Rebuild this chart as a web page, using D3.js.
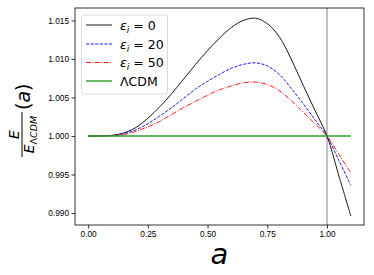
<!DOCTYPE html>
<html>
<head>
<meta charset="utf-8">
<script src="https://cdn.jsdelivr.net/npm/d3@7"></script>
<style>
  body { margin: 0; background: #fff; }
  svg { display: block; font-family: "DejaVu Sans", sans-serif; }
</style>
</head>
<body>
<div id="chart"></div>
<script>
// scale factor a
const aValues = [0, 0.05, 0.1, 0.15, 0.2, 0.25, 0.3, 0.35, 0.4, 0.45, 0.5, 0.55,
  0.6, 0.65, 0.7, 0.75, 0.8, 0.85, 0.9, 0.95, 1.0, 1.05, 1.1];
// E / E_LCDM for each model
const eps0 = [1.0, 1.0, 1.00008, 1.0004, 1.0011, 1.0023, 1.0038, 1.0055, 1.0074, 1.0093,
  1.0111, 1.0127, 1.0141, 1.0150, 1.0153, 1.0146, 1.0129, 1.0100, 1.0066, 1.0033, 1.0, 0.9948, 0.9896];
const eps20 = [1.0, 1.0, 1.00005, 1.0003, 1.0008, 1.0016, 1.0026, 1.0037, 1.0049, 1.0061,
  1.0071, 1.0080, 1.0088, 1.0093, 1.0095, 1.0091, 1.0080, 1.0062, 1.0042, 1.0021, 1.0, 0.9968, 0.9936];
const eps50 = [1.0, 1.0, 1.00003, 1.0002, 1.0006, 1.0012, 1.0019, 1.0028, 1.0037, 1.0045,
  1.0053, 1.0060, 1.0065, 1.0069, 1.0070, 1.0067, 1.0059, 1.0046, 1.0031, 1.0016, 1.0, 0.9976, 0.9952];
const lcdm = aValues.map(() => 1.0);

const xTicks = [0, 0.25, 0.5, 0.75, 1.0];
const yTicks = [0.990, 0.995, 1.000, 1.005, 1.010, 1.015];

const series = [
  { name: "0", values: eps0, color: "#000000", dash: null },
  { name: "20", values: eps20, color: "#0000ff", dash: "3.2,1.4" },
  { name: "50", values: eps50, color: "#ff0000", dash: "5,1.4,1,1.4" },
];

const W = 374, H = 275;
const plot = { left: 75, right: 364, top: 8, bottom: 225 };

const xScale = d3.scaleLinear().domain([-0.055, 1.155]).range([plot.left, plot.right]);
const yScale = d3.scaleLinear().domain([0.98844, 1.01662]).range([plot.bottom, plot.top]);

const svg = d3.select("#chart").append("svg")
  .attr("width", W)
  .attr("height", H);

// axes
svg.append("g")
  .attr("transform", `translate(0,${plot.bottom})`)
  .call(d3.axisBottom(xScale).tickValues(xTicks).tickFormat(d3.format(".2f"))
    .tickSize(3.5).tickPadding(2.5).tickSizeOuter(0))
  .call(g => g.select(".domain").remove())
  .selectAll("text").style("font-size", "8.3px").attr("fill", "#000");

svg.append("g")
  .attr("transform", `translate(${plot.left},0)`)
  .call(d3.axisLeft(yScale).tickValues(yTicks).tickFormat(d3.format(".3f"))
    .tickSize(3.5).tickPadding(2.5).tickSizeOuter(0))
  .call(g => g.select(".domain").remove())
  .selectAll("text").style("font-size", "8.3px").attr("fill", "#000");

svg.selectAll(".tick line").attr("stroke", "#000").attr("stroke-width", 0.8);

const line = d3.line()
  .x((d, i) => xScale(aValues[i]))
  .y(d => yScale(d))
  .curve(d3.curveCatmullRom);

// vertical line at a = 1
svg.append("line")
  .attr("x1", xScale(1)).attr("x2", xScale(1))
  .attr("y1", plot.top).attr("y2", plot.bottom)
  .attr("stroke", "#808080").attr("stroke-width", 1);

series.forEach(s => {
  svg.append("path")
    .datum(s.values)
    .attr("fill", "none")
    .attr("stroke", s.color)
    .attr("stroke-width", 0.9)
    .attr("stroke-dasharray", s.dash)
    .attr("d", line);
});

svg.append("path")
  .datum(lcdm)
  .attr("fill", "none")
  .attr("stroke", "#2ca02c")
  .attr("stroke-width", 1.4)
  .attr("d", line);

// frame
svg.append("rect")
  .attr("x", plot.left).attr("y", plot.top)
  .attr("width", plot.right - plot.left).attr("height", plot.bottom - plot.top)
  .attr("fill", "none").attr("stroke", "#000").attr("stroke-width", 0.8);

// legend
const legend = svg.append("g");
legend.append("rect")
  .attr("x", 81.5).attr("y", 15).attr("width", 86).attr("height", 79)
  .attr("rx", 2.5)
  .attr("fill", "#fff").attr("fill-opacity", 0.8)
  .attr("stroke", "#d0d0d0").attr("stroke-width", 0.8);

const rowY = [25, 44, 62.5, 81];
series.forEach((s, i) => {
  legend.append("line")
    .attr("x1", 86).attr("x2", 112)
    .attr("y1", rowY[i]).attr("y2", rowY[i])
    .attr("stroke", s.color).attr("stroke-width", 0.9)
    .attr("stroke-dasharray", s.dash);
  const t = legend.append("text")
    .attr("x", 120).attr("y", rowY[i] + 4.5)
    .style("font-size", "12.5px");
  t.append("tspan").style("font-style", "italic").text("ε");
  t.append("tspan").style("font-style", "italic").style("font-size", "9px")
    .attr("dy", 3).text("i");
  t.append("tspan").attr("dy", -3).text(" = " + s.name);
});
legend.append("line")
  .attr("x1", 86).attr("x2", 112)
  .attr("y1", rowY[3]).attr("y2", rowY[3])
  .attr("stroke", "#2ca02c").attr("stroke-width", 1.4);
legend.append("text")
  .attr("x", 120).attr("y", rowY[3] + 4.5)
  .style("font-size", "12.5px")
  .text("ΛCDM");

// x label
svg.append("text")
  .attr("x", (plot.left + plot.right) / 2)
  .attr("y", 264)
  .attr("text-anchor", "middle")
  .style("font-size", "29px")
  .style("font-style", "italic")
  .text("a");

// y label: fraction E / E_ΛCDM (a)
const yl = svg.append("g").attr("transform", "translate(22,117) rotate(-90)");
yl.append("line")
  .attr("x1", -40).attr("x2", 5).attr("y1", 0).attr("y2", 0)
  .attr("stroke", "#000").attr("stroke-width", 1);
yl.append("text")
  .attr("x", -17.5).attr("y", -3)
  .attr("text-anchor", "middle")
  .style("font-size", "14px").style("font-style", "italic")
  .text("E");
const den = yl.append("text")
  .attr("x", -17.5).attr("y", 11.5)
  .attr("text-anchor", "middle")
  .style("font-size", "14px");
den.append("tspan").style("font-style", "italic").text("E");
den.append("tspan").attr("dy", 3).style("font-size", "9.5px").text("Λ");
den.append("tspan").style("font-size", "9.5px").style("font-style", "italic").text("CDM");
const paren = yl.append("text")
  .attr("x", 7).attr("y", 7.5)
  .style("font-size", "19px");
paren.append("tspan").text("(");
paren.append("tspan").style("font-style", "italic").text("a");
paren.append("tspan").text(")");
</script>
</body>
</html>
